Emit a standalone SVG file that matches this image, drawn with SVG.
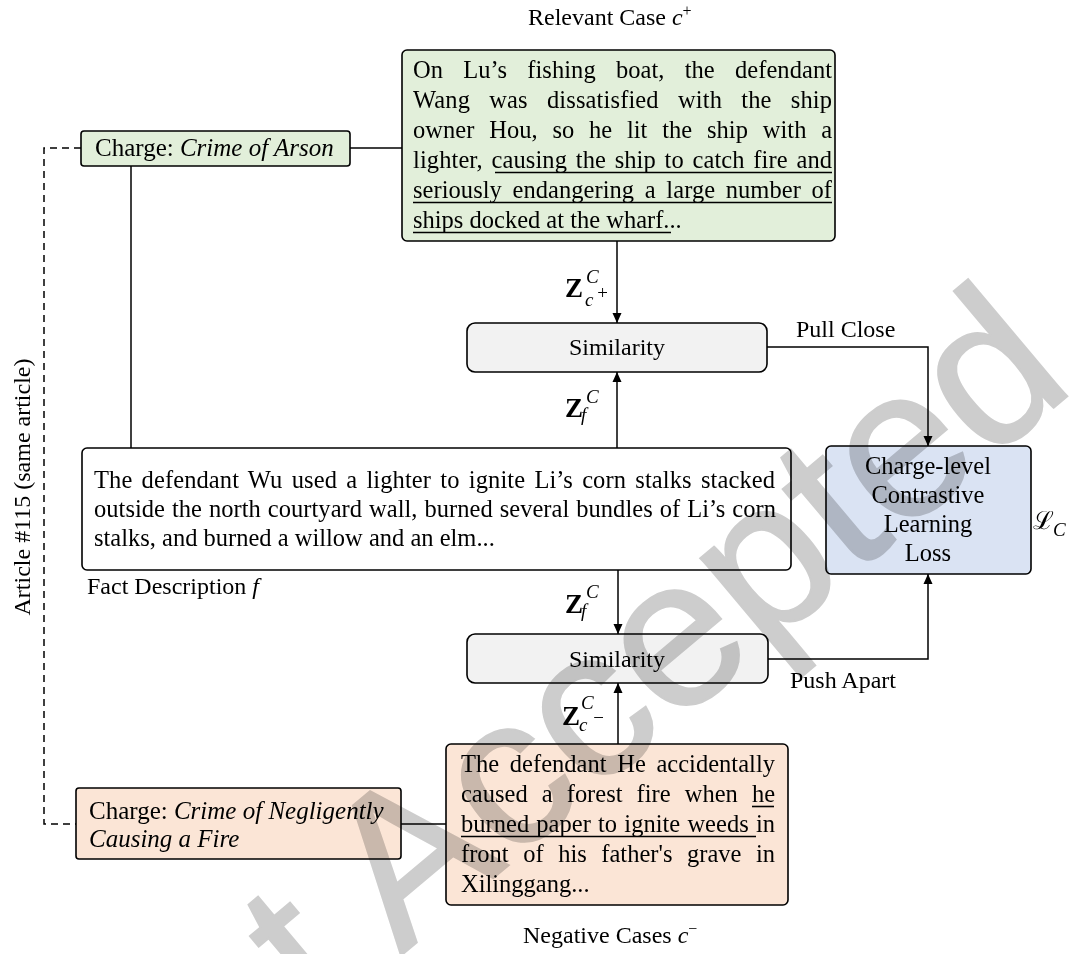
<svg xmlns="http://www.w3.org/2000/svg" width="1073" height="954" viewBox="0 0 1073 954">
<style>
.t{font-family:"Liberation Serif","Times New Roman",serif;font-size:24.5px;fill:#000}
.l{font-family:"Liberation Serif","Times New Roman",serif;font-size:24px;fill:#000}
.c{font-family:"Liberation Serif","Times New Roman",serif;font-size:25px;fill:#000}
.i{font-style:italic}
.box{stroke:#000;stroke-width:1.6}
.conn{stroke:#000;stroke-width:1.5;fill:none}
.ul{stroke:#000;stroke-width:1.6}
.z{font-family:"Liberation Serif","Times New Roman",serif;font-weight:bold;font-size:27px}
.zs{font-family:"Liberation Serif","Times New Roman",serif;font-style:italic;font-size:19px}
.wm{font-family:"Liberation Sans",Arial,sans-serif;font-size:212px;fill:#cdcdcd;stroke:#cdcdcd;stroke-width:2;mix-blend-mode:multiply}
</style>
<defs>
<marker id="ah" markerUnits="userSpaceOnUse" markerWidth="10" markerHeight="10" refX="10" refY="5" orient="auto">
<path d="M0,0.5 L10,5 L0,9.5 z" fill="#000"/>
</marker>
</defs>
<rect width="1073" height="954" fill="#fff"/>

<g id="connectors">
<polyline class="conn" points="81,148 44,148 44,824 76,824" stroke-dasharray="7,5"/>
<line class="conn" x1="350" y1="148" x2="402" y2="148"/>
<line class="conn" x1="131" y1="166" x2="131" y2="448"/>
<line class="conn" x1="401" y1="824" x2="446" y2="824"/>
<line class="conn" x1="617" y1="241" x2="617" y2="323" marker-end="url(#ah)"/>
<line class="conn" x1="617" y1="448" x2="617" y2="372" marker-end="url(#ah)"/>
<line class="conn" x1="618" y1="570" x2="618" y2="634" marker-end="url(#ah)"/>
<line class="conn" x1="618" y1="744" x2="618" y2="683" marker-end="url(#ah)"/>
<polyline class="conn" points="767,347 928,347 928,446" marker-end="url(#ah)"/>
<polyline class="conn" points="768,659 928,659 928,574" marker-end="url(#ah)"/>
</g>

<g id="label-relevant">
<text class="l" x="528" y="25">Relevant Case <tspan class="i">c</tspan><tspan font-size="16" dy="-9">+</tspan></text>
</g>

<g id="relevant-case">
<rect class="box" x="402" y="50" width="433" height="191" rx="5" fill="#e2efda"/>
<text class="t" x="413" y="78" word-spacing="14" textLength="419" lengthAdjust="spacing">On Lu’s fishing boat, the defendant</text>
<text class="t" x="413" y="108" word-spacing="13" textLength="419" lengthAdjust="spacing">Wang was dissatisfied with the ship</text>
<text class="t" x="413" y="138" word-spacing="8.5" textLength="419" lengthAdjust="spacing">owner Hou, so he lit the ship with a</text>
<text class="t" x="413" y="168" word-spacing="2.5" textLength="419" lengthAdjust="spacing">lighter, causing the ship to catch fire and</text>
<text class="t" x="413" y="198" word-spacing="4.5" textLength="419" lengthAdjust="spacing">seriously endangering a large number of</text>
<text class="t" x="413" y="228">ships docked at the wharf...</text>
<line class="ul" x1="495" y1="172.5" x2="832" y2="172.5"/>
<line class="ul" x1="413" y1="202.5" x2="832" y2="202.5"/>
<line class="ul" x1="413" y1="232.5" x2="671" y2="232.5"/>
</g>

<g id="charge-arson">
<rect class="box" x="81" y="131" width="269" height="35" rx="3" fill="#e2efda"/>
<text class="c" x="95" y="156">Charge: <tspan class="i">Crime of Arson</tspan></text>
</g>

<g id="article-label">
<text class="l" transform="translate(30,487) rotate(-90)" text-anchor="middle">Article #115 (same article)</text>
</g>

<g id="z-cplus">
<text class="z" x="565" y="297">Z</text>
<text class="zs" x="586" y="283">C</text>
<text class="zs" x="585" y="306">c</text>
<text class="zs" x="596" y="299" font-size="15" font-style="normal">+</text>
</g>

<g id="similarity-1">
<rect class="box" x="467" y="323" width="300" height="49" rx="8" fill="#f2f2f2"/>
<text class="l" x="617" y="355" text-anchor="middle">Similarity</text>
</g>

<g id="pull-close">
<text class="l" x="796" y="337">Pull Close</text>
</g>

<g id="z-f1">
<text class="z" x="565" y="417">Z</text>
<text class="zs" x="586" y="403">C</text>
<text class="zs" x="581" y="421">f</text>
</g>

<g id="fact">
<rect class="box" x="82" y="448" width="709" height="122" rx="5" fill="#fff"/>
<text class="t" x="94" y="488" word-spacing="3" textLength="681" lengthAdjust="spacing">The defendant Wu used a lighter to ignite Li’s corn stalks stacked</text>
<text class="t" x="94" y="517" word-spacing="0.8" textLength="682" lengthAdjust="spacing">outside the north courtyard wall, burned several bundles of Li’s corn</text>
<text class="t" x="94" y="546">stalks, and burned a willow and an elm...</text>
</g>

<g id="label-fact">
<text class="l" x="87" y="594">Fact Description <tspan class="i">f</tspan></text>
</g>

<g id="loss">
<rect class="box" x="826" y="446" width="205" height="128" rx="5" fill="#dae3f3"/>
<text class="t" x="928" y="474" text-anchor="middle">Charge-level</text>
<text class="t" x="928" y="503" text-anchor="middle">Contrastive</text>
<text class="t" x="928" y="532" text-anchor="middle">Learning</text>
<text class="t" x="928" y="561" text-anchor="middle">Loss</text>
</g>

<g id="loss-symbol">
<text x="1033" y="529" font-family="'DejaVu Serif',serif" font-size="25">ℒ</text>
<text class="zs" x="1053" y="536" font-size="21">C</text>
</g>

<g id="z-f2">
<text class="z" x="565" y="613">Z</text>
<text class="zs" x="586" y="598">C</text>
<text class="zs" x="581" y="617">f</text>
</g>

<g id="similarity-2">
<rect class="box" x="467" y="634" width="301" height="49" rx="8" fill="#f2f2f2"/>
<text class="l" x="617" y="667" text-anchor="middle">Similarity</text>
</g>

<g id="push-apart">
<text class="l" x="790" y="688">Push Apart</text>
</g>

<g id="z-cminus">
<text class="z" x="562" y="725">Z</text>
<text class="zs" x="581" y="709">C</text>
<text class="zs" x="579" y="731">c</text>
<text class="zs" x="592" y="724" font-size="15" font-style="normal">−</text>
</g>

<g id="negative-case">
<rect class="box" x="446" y="744" width="342" height="161" rx="5" fill="#fbe5d6"/>
<text class="t" x="461" y="772" word-spacing="4.5" textLength="314" lengthAdjust="spacing">The defendant He accidentally</text>
<text class="t" x="461" y="802" word-spacing="8" textLength="314" lengthAdjust="spacing">caused a forest fire when he</text>
<text class="t" x="461" y="832" word-spacing="1" textLength="314" lengthAdjust="spacing">burned paper to ignite weeds in</text>
<text class="t" x="461" y="862" word-spacing="8.4" textLength="314" lengthAdjust="spacing">front of his father's grave in</text>
<text class="t" x="461" y="892">Xilinggang...</text>
<line class="ul" x1="752" y1="806.5" x2="774" y2="806.5"/>
<line class="ul" x1="461" y1="836.5" x2="756" y2="836.5"/>
</g>

<g id="charge-negligent">
<rect class="box" x="76" y="788" width="325" height="71" rx="3" fill="#fbe5d6"/>
<text class="c" x="89" y="819">Charge: <tspan class="i">Crime of Negligently</tspan></text>
<text class="c i" x="89" y="847">Causing a Fire</text>
</g>

<g id="label-negative">
<text class="l" x="523" y="943">Negative Cases <tspan class="i">c</tspan><tspan font-size="16" dy="-9">−</tspan></text>
</g>

<g id="watermark">
<text class="wm" transform="translate(410,948) rotate(-40)" x="-448" y="0">Just Accepted</text>
</g>
</svg>
